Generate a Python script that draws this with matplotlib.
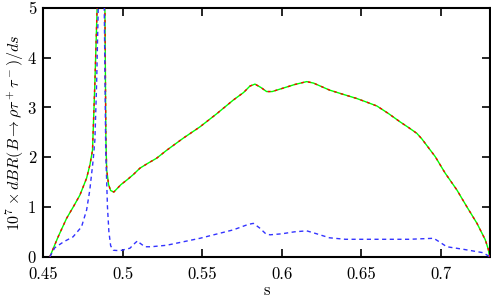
import matplotlib
matplotlib.use("Agg")
import matplotlib.pyplot as plt

# s values and distributions
s_full = [0.4543, 0.4595, 0.4648, 0.4690, 0.4732, 0.4774, 0.4795, 0.4811, 0.4826, 0.4840,
          0.4855, 0.4868, 0.4878, 0.4885, 0.4889, 0.4895, 0.4900, 0.4912, 0.4925, 0.4945,
          0.4990, 0.5030, 0.5067, 0.5109, 0.5160, 0.5214, 0.5277, 0.5380, 0.5486, 0.5590,
          0.5696, 0.5760, 0.5800, 0.5832, 0.5870, 0.5905, 0.5940, 0.6000, 0.6080, 0.6157,
          0.6200, 0.6250, 0.6300, 0.6380, 0.6472, 0.6540, 0.6598, 0.6670, 0.6744, 0.6800,
          0.6849, 0.6880, 0.6965, 0.7027, 0.7101, 0.7164, 0.7227, 0.7279, 0.7298, 0.7306]
br_full = [0.0, 0.40, 0.77, 1.00, 1.24, 1.58, 1.85, 2.14, 3.50, 5.00,
           9.0, 20.0, 20.0, 8.0, 5.00, 2.40, 1.75, 1.45, 1.33, 1.30,
           1.45, 1.55, 1.65, 1.78, 1.88, 1.98, 2.14, 2.38, 2.61, 2.87,
           3.15, 3.30, 3.43, 3.47, 3.40, 3.32, 3.32, 3.38, 3.46, 3.52,
           3.49, 3.42, 3.35, 3.27, 3.18, 3.10, 3.03, 2.88, 2.71, 2.59,
           2.48, 2.37, 2.01, 1.68, 1.34, 1.00, 0.67, 0.34, 0.15, 0.0]

s_sd = [0.4543, 0.4574, 0.4630, 0.4689, 0.4742, 0.4774, 0.4794, 0.4815, 0.4826, 0.4837,
        0.4847, 0.4860, 0.4872, 0.4878, 0.4885, 0.4894, 0.4905, 0.4914, 0.4925, 0.4941,
        0.4983, 0.5046, 0.5080, 0.5095, 0.5110, 0.5140, 0.5180, 0.5277, 0.5486, 0.5696,
        0.5790, 0.5822, 0.5860, 0.5900, 0.5926, 0.6000, 0.6080, 0.6157, 0.6220, 0.6300,
        0.6400, 0.6577, 0.6800, 0.6955, 0.6990, 0.7037, 0.7139, 0.7266, 0.7306]
br_sd = [0.0, 0.18, 0.30, 0.40, 0.60, 0.94, 1.34, 1.94, 2.35, 3.50,
         5.00, 12.0, 30.0, 12.0, 5.00, 2.14, 1.00, 0.50, 0.22, 0.13,
         0.12, 0.17, 0.28, 0.32, 0.27, 0.20, 0.20, 0.23, 0.37, 0.54,
         0.65, 0.67, 0.58, 0.46, 0.44, 0.46, 0.50, 0.52, 0.46, 0.38,
         0.35, 0.35, 0.35, 0.37, 0.30, 0.20, 0.15, 0.08, 0.0]

xticks = [0.45, 0.5, 0.55, 0.6, 0.65, 0.7]
xlabels = ["0.45", "0.5", "0.55", "0.6", "0.65", "0.7"]
yticks = [0, 1, 2, 3, 4, 5]

plt.rcParams['font.family'] = 'cmr10'
plt.rcParams['mathtext.fontset'] = 'cm'
plt.rcParams['font.size'] = 12

fig = plt.figure(figsize=(4.91, 2.97), dpi=100)
ax = fig.add_axes([0.0876, 0.1357, 0.9098, 0.8374])

ax.plot(s_full, br_full, color='#00ff00', lw=1.0, zorder=2)
ax.plot(s_full, br_full, color='#ff0000', lw=1.0, dashes=(2, 3), zorder=3)
ax.plot(s_sd, br_sd, color='#3333ff', lw=1.0, dashes=(3, 2.5), zorder=4)

ax.set_xlim(0.45, 0.7307)
ax.set_ylim(0, 5)
ax.set_xticks(xticks)
ax.set_xticklabels(xlabels)
ax.set_yticks(yticks)
ax.set_yticklabels([str(v) for v in yticks])
ax.tick_params(direction='in', length=6, width=1.2, top=True, right=True)
ax.tick_params(axis='x', pad=7.5)
ax.tick_params(axis='y', pad=5)
for sp in ax.spines.values():
    sp.set_linewidth(1.5)

ax.set_xlabel("s", labelpad=0)
ax.set_ylabel(r"$10^7 \times dBR(B \to \rho\tau^+\tau^-)/ds$", labelpad=1, fontsize=11.5)

fig.savefig("out.png", dpi=100)
